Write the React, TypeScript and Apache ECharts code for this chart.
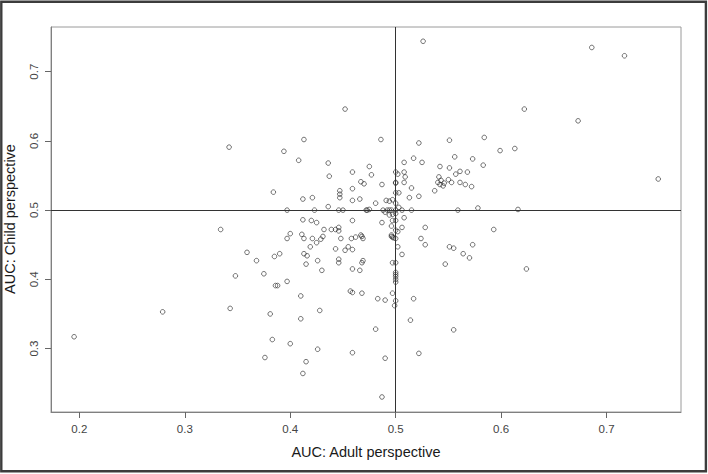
import React, { useEffect, useRef } from "react";
import * as echarts from "echarts";

const adultAuc = [
  0.195, 0.279, 0.452, 0.413, 0.342, 0.394, 0.526, 0.622, 0.486, 0.522,
  0.551, 0.584, 0.599, 0.613, 0.686, 0.717, 0.673, 0.749, 0.408, 0.436,
  0.459, 0.475, 0.477, 0.437, 0.467, 0.470, 0.459, 0.447, 0.447, 0.447,
  0.384, 0.412, 0.421, 0.459, 0.466, 0.436, 0.397, 0.423, 0.446, 0.450,
  0.472, 0.473, 0.475, 0.334, 0.412, 0.420, 0.425, 0.459, 0.446, 0.432,
  0.439, 0.443, 0.446, 0.400, 0.397, 0.411, 0.413, 0.421, 0.425, 0.429,
  0.431, 0.448, 0.458, 0.462, 0.467, 0.468, 0.469, 0.419, 0.359, 0.385,
  0.390, 0.413, 0.416, 0.443, 0.452, 0.455, 0.459, 0.368, 0.426, 0.415,
  0.446, 0.446, 0.468, 0.469, 0.430, 0.459, 0.466, 0.348, 0.375, 0.386,
  0.388, 0.397, 0.410, 0.457, 0.459, 0.468, 0.343, 0.381, 0.410, 0.428,
  0.383, 0.400, 0.376, 0.426, 0.459, 0.415, 0.412,
  0.517, 0.556, 0.573, 0.508, 0.525, 0.542, 0.551, 0.583, 0.500, 0.502,
  0.508, 0.509, 0.508, 0.500, 0.500, 0.557, 0.561, 0.568, 0.541, 0.543,
  0.540, 0.550, 0.553, 0.546, 0.542, 0.545, 0.561, 0.566, 0.572, 0.537,
  0.515, 0.487, 0.500, 0.503, 0.513, 0.522, 0.491, 0.494, 0.497, 0.481,
  0.500, 0.503, 0.488, 0.490, 0.492, 0.494, 0.496, 0.500, 0.506, 0.515,
  0.559, 0.578, 0.616, 0.494, 0.497, 0.500, 0.508, 0.497, 0.500, 0.487,
  0.496, 0.506, 0.528, 0.500, 0.502, 0.593, 0.496, 0.496, 0.497, 0.498,
  0.500, 0.524, 0.528, 0.502, 0.551, 0.555, 0.573, 0.506, 0.564, 0.570,
  0.497, 0.500, 0.547, 0.500, 0.500, 0.500, 0.500, 0.500, 0.624,
  0.497, 0.483, 0.490, 0.500, 0.499, 0.517, 0.514, 0.481, 0.555, 0.522,
  0.490, 0.487,
];

const childAuc = [
  0.317, 0.353, 0.646, 0.602, 0.591, 0.585, 0.744, 0.646, 0.602, 0.597,
  0.601, 0.605, 0.586, 0.589, 0.735, 0.723, 0.629, 0.545, 0.572, 0.568,
  0.555, 0.563, 0.551, 0.549, 0.541, 0.538, 0.531, 0.528, 0.523, 0.518,
  0.526, 0.516, 0.518, 0.514, 0.516, 0.505, 0.500, 0.500, 0.500, 0.500,
  0.500, 0.500, 0.501, 0.472, 0.486, 0.485, 0.482, 0.485, 0.475, 0.472,
  0.472, 0.472, 0.470, 0.466, 0.459, 0.465, 0.459, 0.459, 0.453, 0.458,
  0.462, 0.459, 0.459, 0.461, 0.464, 0.462, 0.459, 0.447, 0.439, 0.433,
  0.437, 0.437, 0.434, 0.444, 0.442, 0.447, 0.443, 0.427, 0.427, 0.422,
  0.429, 0.424, 0.424, 0.427, 0.413, 0.415, 0.413, 0.405, 0.408, 0.391,
  0.391, 0.397, 0.376, 0.383, 0.381, 0.380, 0.358, 0.350, 0.343, 0.355,
  0.313, 0.307, 0.287, 0.299, 0.294, 0.281, 0.264,
  0.575, 0.577, 0.574, 0.569, 0.569, 0.563, 0.561, 0.565, 0.555, 0.552,
  0.555, 0.548, 0.540, 0.540, 0.539, 0.552, 0.556, 0.555, 0.548, 0.543,
  0.540, 0.544, 0.540, 0.539, 0.537, 0.535, 0.540, 0.537, 0.534, 0.528,
  0.532, 0.537, 0.525, 0.525, 0.518, 0.520, 0.514, 0.513, 0.515, 0.510,
  0.510, 0.504, 0.500, 0.497, 0.500, 0.500, 0.500, 0.500, 0.500, 0.500,
  0.500, 0.503, 0.501, 0.493, 0.494, 0.495, 0.489, 0.485, 0.485, 0.482,
  0.477, 0.475, 0.475, 0.471, 0.469, 0.472, 0.464, 0.462, 0.461, 0.460,
  0.459, 0.459, 0.450, 0.447, 0.447, 0.445, 0.450, 0.436, 0.437, 0.431,
  0.424, 0.424, 0.422, 0.410, 0.407, 0.404, 0.400, 0.396, 0.415,
  0.380, 0.372, 0.370, 0.369, 0.362, 0.372, 0.341, 0.328, 0.327, 0.293,
  0.286, 0.230,
];

const xTicks = [0.2, 0.3, 0.4, 0.5, 0.6, 0.7];
const yTicks = [0.3, 0.4, 0.5, 0.6, 0.7];
const refX = 0.5;
const refY = 0.5;
const xTitle = "AUC: Adult perspective";
const yTitle = "AUC: Child perspective";

const FONT = "'Liberation Sans', Arial, sans-serif";

export default function App() {
  const ref = useRef<HTMLDivElement>(null);
  useEffect(() => {
    const chart = echarts.init(ref.current!, null, { renderer: "svg" });
    const data = adultAuc.map((x, i) => [x, childAuc[i]]);
    chart.setOption({
      animation: false,
      backgroundColor: "#ffffff",
      grid: {
        left: 51,
        right: 27,
        top: 27,
        bottom: 62,
        show: true,
        borderColor: "#9a9a9a",
        borderWidth: 1,
      },
      xAxis: {
        type: "value",
        min: 0.1731,
        max: 0.7706,
        axisLine: { show: true, onZero: false, lineStyle: { color: "#808080", width: 1 } },
        axisTick: { show: true, length: 6, lineStyle: { color: "#666" }, customValues: xTicks },
        axisLabel: {
          customValues: xTicks,
          formatter: (v: number) => v.toFixed(1),
          margin: 11,
          color: "#444",
          fontSize: 11.5,
          fontFamily: FONT,
        },
        splitLine: { show: false },
      },
      yAxis: {
        type: "value",
        min: 0.2083,
        max: 0.7646,
        axisLine: { show: true, onZero: false, lineStyle: { color: "#808080", width: 1 } },
        axisTick: { show: true, length: 6, lineStyle: { color: "#666" }, customValues: yTicks },
        axisLabel: {
          customValues: yTicks,
          formatter: (v: number) => v.toFixed(1),
          rotate: 90,
          margin: 11,
          color: "#444",
          fontSize: 11.5,
          fontFamily: FONT,
        },
        splitLine: { show: false },
      },
      series: [
        {
          type: "scatter",
          data,
          symbol: "circle",
          symbolSize: 4.6,
          itemStyle: { color: "rgba(0,0,0,0)", borderColor: "#222", borderWidth: 0.8 },
          silent: true,
          markLine: {
            silent: true,
            symbol: ["none", "none"],
            label: { show: false },
            lineStyle: { color: "#333", type: "solid", width: 1 },
            data: [{ xAxis: refX }, { yAxis: refY }],
          },
        },
      ],
      graphic: [
        {
          type: "rect",
          shape: { x: 1.3, y: 1.7, width: 704.6, height: 469.6 },
          style: { fill: "none", stroke: "#3c3c3c", lineWidth: 2.4 },
          silent: true,
        },
        {
          type: "text",
          x: 366,
          y: 452,
          style: {
            text: xTitle,
            fill: "#1a1a1a",
            fontSize: 14.5,
            fontFamily: FONT,
            textAlign: "center",
            textVerticalAlign: "middle",
          },
        },
        {
          type: "text",
          x: 10,
          y: 219,
          rotation: Math.PI / 2,
          style: {
            text: yTitle,
            fill: "#1a1a1a",
            fontSize: 14.5,
            fontFamily: FONT,
            textAlign: "center",
            textVerticalAlign: "middle",
          },
        },
      ],
    });
    return () => chart.dispose();
  }, []);
  return (
    <div
      ref={ref}
      style={{ position: "absolute", left: 0, top: 0, width: 708, height: 474, background: "#fff" }}
    />
  );
}
